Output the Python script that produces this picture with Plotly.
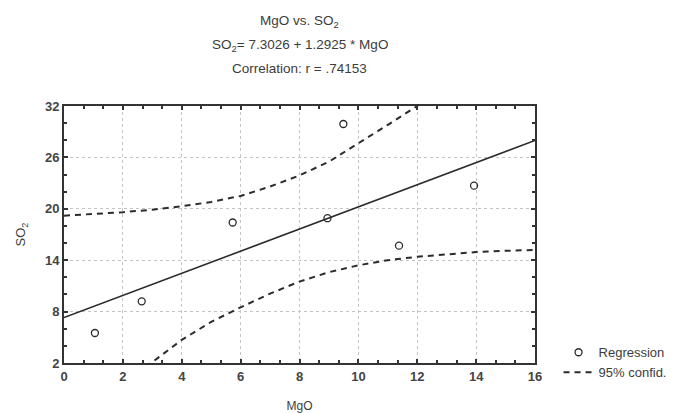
import plotly.graph_objects as go

mgo = [1.05, 2.64, 5.73, 8.95, 9.49, 11.38, 13.93]
so2 = [5.5, 9.2, 18.4, 18.9, 29.9, 15.7, 22.7]

fit_x = [0, 16]
fit_y = [7.30, 27.98]

# 95% confidence band values
band_x = [0, 1, 2, 3, 4, 5, 6, 7, 8, 9, 10, 11, 12, 13, 14, 15, 16]
band_upper = [19.2, 19.4, 19.6, 19.9, 20.3, 20.8, 21.5, 22.6, 23.9, 25.5, 27.6, 29.8, 32.0, 34.4, 36.8, 39.2, 41.6]
band_lower = [-5.0, -2.6, -0.3, 2.1, 4.7, 6.8, 8.5, 10.1, 11.5, 12.6, 13.4, 14.0, 14.4, 14.7, 14.95, 15.1, 15.2]

x_ticks = [0, 2, 4, 6, 8, 10, 12, 14, 16]
y_ticks = [2, 8, 14, 20, 26, 32]

txt = "#3c3c3c"
ink = "#2b2b2b"
font_fam = "Liberation Sans, Arial, sans-serif"

fig = go.Figure()

fig.add_trace(go.Scatter(
    x=band_x, y=band_upper, mode="lines", name="95% confid.",
    line=dict(color=ink, width=2, dash="6px,5px"), legendgroup="ci", showlegend=True))
fig.add_trace(go.Scatter(
    x=band_x, y=band_lower, mode="lines", name="95% confid.",
    line=dict(color=ink, width=2, dash="6px,5px"), legendgroup="ci", showlegend=False))
fig.add_trace(go.Scatter(
    x=fit_x, y=fit_y, mode="lines", name="fit",
    line=dict(color=ink, width=1.6), showlegend=False))
fig.add_trace(go.Scatter(
    x=mgo, y=so2, mode="markers", name="Regression",
    marker=dict(symbol="circle-open", size=7, color=ink, line=dict(width=1.3))))

axis_common = dict(
    showline=True, linecolor="#333333", linewidth=2, mirror="ticks",
    ticks="inside", ticklen=4, tickcolor="#333333", tickwidth=1.5,
    showgrid=True, gridcolor="#c4c4c4", griddash="dot", gridwidth=1,
    zeroline=False, automargin=False,
    tickfont=dict(family=font_fam, size=13, color="#444444", weight="bold"),
)

fig.update_xaxes(
    range=[0, 16], tickmode="array", tickvals=x_ticks, ticktext=[str(v) for v in x_ticks],
    minor=dict(dtick=2/3, tick0=0, ticks="inside", ticklen=3, tickcolor="#333333", showgrid=False),
    title=dict(text="MgO", font=dict(family=font_fam, size=12, color=txt), standoff=20),
    **axis_common)
fig.update_yaxes(
    range=[2, 32], tickmode="array", tickvals=y_ticks, ticktext=[str(v) for v in y_ticks],
    minor=dict(dtick=2, tick0=0, ticks="inside", ticklen=3, tickcolor="#333333", showgrid=False),
    title=dict(text="SO<sub>2</sub>", font=dict(family=font_fam, size=13, color=txt), standoff=16),
    **axis_common)

title_lines = [
    ("MgO vs. SO<sub>2</sub>", 1.327),
    ("SO<sub>2</sub>= 7.3026 + 1.2925 * MgO", 1.235),
    ("Correlation: r = .74153", 1.146),
]
for t, yy in title_lines:
    fig.add_annotation(text=t, x=0.5, y=yy, xref="paper", yref="paper",
                       showarrow=False, font=dict(family=font_fam, size=13.5, color=txt),
                       xanchor="center", yanchor="middle")

fig.update_layout(
    width=680, height=413,
    margin=dict(l=64, r=145, t=106, b=50, autoexpand=False),
    paper_bgcolor="white", plot_bgcolor="white",
    font=dict(family=font_fam, color=txt),
    legend=dict(x=1.05, y=0.1, xanchor="left", yanchor="top",
                font=dict(family=font_fam, size=13, color=txt),
                bgcolor="rgba(0,0,0,0)", traceorder="reversed",
                itemwidth=30, tracegroupgap=0),
)

fig.write_html("out.html", config={"displayModeBar": False},
               post_script="document.body.style.margin='0px';document.body.style.padding='0px';")
